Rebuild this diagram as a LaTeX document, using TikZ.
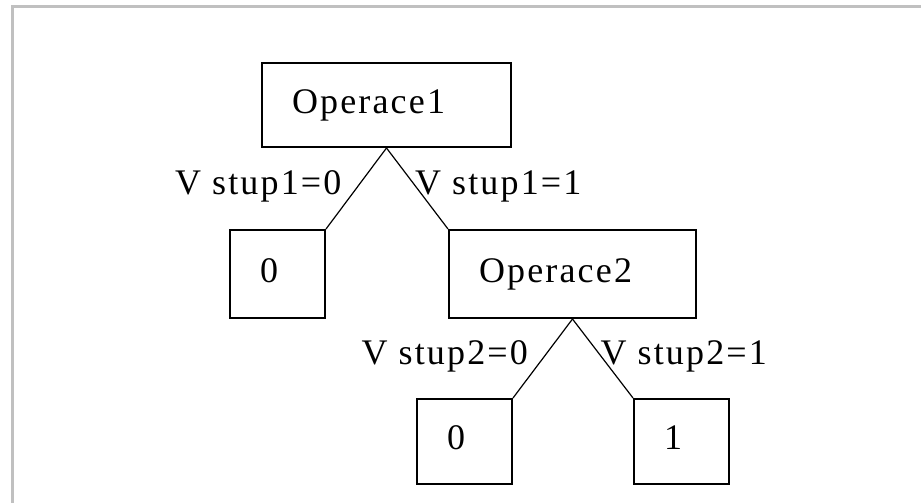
\documentclass[tikz,border=0pt]{standalone}
\usepackage{fontspec}
\setmainfont{Liberation Serif}[LetterSpace=6]
\usepackage{tikz}

\definecolor{framegrey}{RGB}{192,192,192}

\begin{document}
\begin{tikzpicture}[x=1pt,y=-1pt,
		box/.style={draw, line width=2pt, anchor=north west, inner xsep=30pt, inner ysep=0pt, align=left, text height=24pt, text depth=8pt},
		branch/.style={line width=1.2pt},
		lbl/.style={inner sep=0pt}]
			\fontsize{36}{40}\selectfont
			\useasboundingbox (0,0) rectangle (921,503);
			\draw [framegrey, line width=3pt] (12.5,503) -- (12.5,6.5) -- (921,6.5);
			\node [box, text width=189pt, minimum height=84pt] (op1) at (261,62) {Operace1};
			\node [box, text width=35pt, minimum height=88pt] (zero1) at (229,229) {0};
			\node [box, text width=187pt, minimum height=88pt] (op2) at (448,229) {Operace2};
			\node [box, text width=35pt, minimum height=85pt] (zero2) at (416,398) {0};
			\node [box, text width=35pt, minimum height=85pt] (one2) at (633,398) {1};
			\draw [branch] (op1.south) -- node [lbl, pos=0.47, anchor=east, xshift=-16pt] {V stup1=0} (zero1.north east);
			\draw [branch] (op1.south) -- node [lbl, pos=0.47, anchor=west, xshift=-1pt] {V stup1=1} (op2.north west);
			\draw [branch] (op2.south) -- node [lbl, pos=0.47, anchor=east, xshift=-16pt] {V stup2=0} (zero2.north east);
			\draw [branch] (op2.south) -- node [lbl, pos=0.47, anchor=west, xshift=-1pt] {V stup2=1} (one2.north west);
		\end{tikzpicture}
\end{document}
